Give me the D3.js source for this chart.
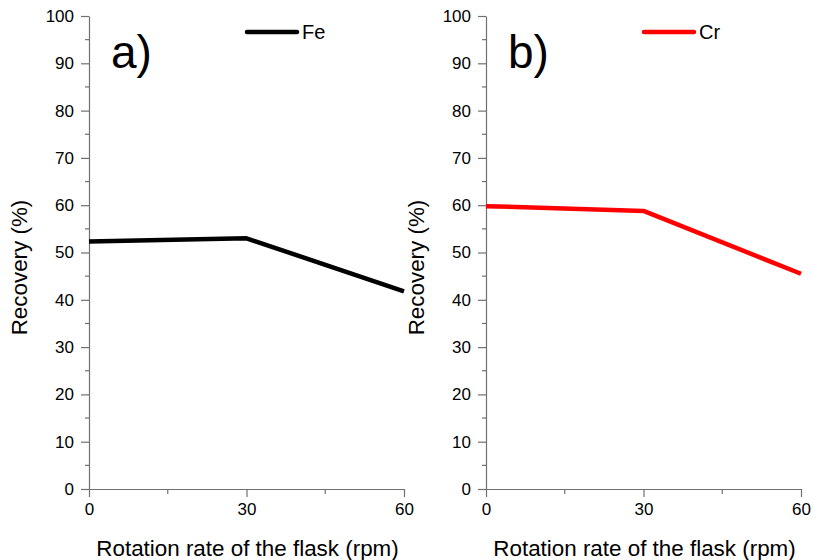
<!DOCTYPE html>
<html>
<head>
<meta charset="utf-8">
<script src="https://cdn.jsdelivr.net/npm/d3@7/dist/d3.min.js"></script>
<style>
  body { margin: 0; background: #fff; }
  svg { display: block; font-family: "Liberation Sans", Arial, sans-serif; }
</style>
</head>
<body>
<svg id="chart" width="813" height="560"></svg>
<script>
const rotation = [0, 30, 60];
const feRecovery = [52.3, 53.0, 41.8];
const crRecovery = [59.8, 58.8, 45.5];
const yTicks = [0, 10, 20, 30, 40, 50, 60, 70, 80, 90, 100];
const yMinor = [5, 15, 25, 35, 45, 55, 65, 75, 85, 95];
const xTicks = [0, 30, 60];
const xMinor = [15, 45];

const panels = [
  { label: "a)", name: "Fe", values: feRecovery, color: "#000000", x0: 89, x1: 404 },
  { label: "b)", name: "Cr", values: crRecovery, color: "#ff0000", x0: 486, x1: 801 }
];

const svg = d3.select("#chart");
const yTop = 16, yBot = 489;
const axisColor = "#707070";
const FONT = "Liberation Sans, Arial, sans-serif";

panels.forEach(p => {
  const x = d3.scaleLinear().domain([0, 60]).range([p.x0, p.x1]);
  const y = d3.scaleLinear().domain([0, 100]).range([yBot, yTop]);
  const g = svg.append("g");

  // y axis
  const ya = g.append("g").attr("transform", `translate(${p.x0},0)`)
    .call(d3.axisLeft(y).tickValues(yTicks).tickSize(8).tickPadding(7).tickSizeOuter(0));
  ya.attr("font-size", 17).attr("font-family", FONT);
  ya.selectAll("text").attr("fill", "#000");
  ya.append("g").selectAll("line").data(yMinor).join("line")
    .attr("x1", -4).attr("x2", 0).attr("y1", d => y(d)).attr("y2", d => y(d));

  // x axis
  const xa = g.append("g").attr("transform", `translate(0,${yBot})`)
    .call(d3.axisBottom(x).tickValues(xTicks).tickSize(8).tickPadding(6).tickSizeOuter(0));
  xa.attr("font-size", 17).attr("font-family", FONT);
  xa.selectAll("text").attr("fill", "#000");
  xa.append("g").selectAll("line").data(xMinor).join("line")
    .attr("y1", 0).attr("y2", 5).attr("x1", d => x(d)).attr("x2", d => x(d));

  g.selectAll(".domain").attr("stroke", axisColor).attr("stroke-width", 1.2);
  g.selectAll("line").attr("stroke", axisColor).attr("stroke-width", 1.2);

  // axis titles
  g.append("text").attr("x", (p.x0 + p.x1) / 2 + 1).attr("y", 556)
    .attr("text-anchor", "middle").attr("font-size", 22.4).attr("fill", "#000")
    .attr("font-family", FONT)
    .text("Rotation rate of the flask (rpm)");
  g.append("text").attr("transform", `translate(${p.x0 - 62},${(yTop + yBot) / 2 + 15}) rotate(-90)`)
    .attr("text-anchor", "middle").attr("font-size", 22.4).attr("fill", "#000")
    .attr("font-family", FONT)
    .text("Recovery (%)");

  // panel label
  g.append("text").attr("x", p.x0 + 22).attr("y", 68)
    .attr("font-size", 46).attr("fill", "#000").attr("font-family", FONT).text(p.label);

  // data line
  const data = rotation.map((r, i) => [r, p.values[i]]);
  g.append("path").datum(data)
    .attr("fill", "none").attr("stroke", p.color).attr("stroke-width", 4.5)
    .attr("stroke-linejoin", "round")
    .attr("d", d3.line().x(d => x(d[0])).y(d => y(d[1])));

  // legend
  const lx = p.x0 + 158;
  g.append("line").attr("x1", lx).attr("x2", lx + 50).attr("y1", 32).attr("y2", 32)
    .attr("stroke", p.color).attr("stroke-width", 4.5).attr("stroke-linecap", "round");
  g.append("text").attr("x", lx + 55).attr("y", 39).attr("font-size", 20).attr("fill", "#000")
    .attr("font-family", FONT).text(p.name);
});
</script>
</body>
</html>
